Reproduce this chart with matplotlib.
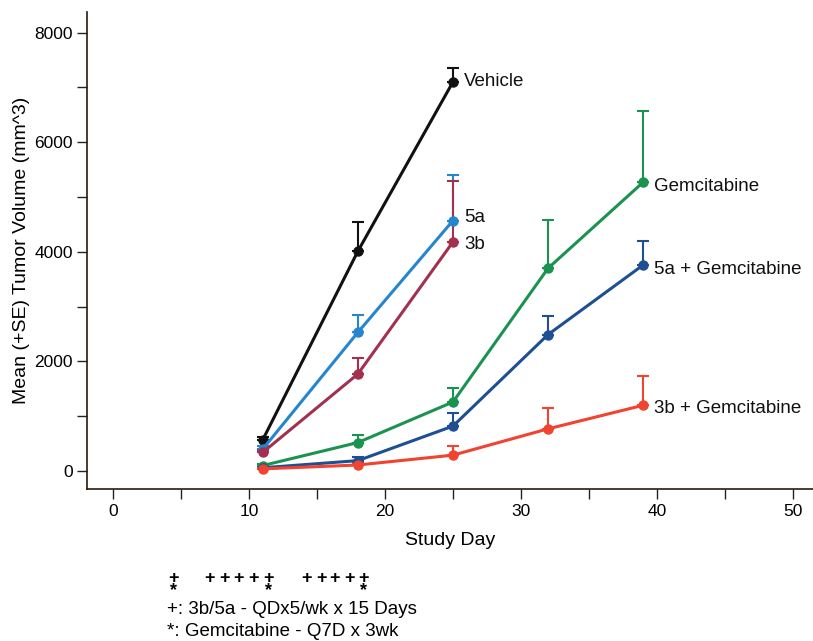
import matplotlib
matplotlib.use("Agg")
import matplotlib.pyplot as plt
import matplotlib.transforms as mtransforms
from matplotlib.ticker import MultipleLocator

plt.rcParams['font.family'] = ['Liberation Sans', 'DejaVu Sans']

# ---------------- Data ----------------
days = [11, 18, 25, 32, 39]

vehicle = [570, 4010, 7100]
vehicle_se = [60, 540, 250]

cmp_5a = [400, 2530, 4570]
cmp_5a_se = [50, 320, 830]

cmp_3b = [340, 1770, 4180]
cmp_3b_se = [40, 300, 1120]

gem = [100, 520, 1260, 3700, 5270]
gem_se = [30, 130, 260, 880, 1300]

gem_5a = [60, 190, 820, 2490, 3760]
gem_5a_se = [20, 70, 240, 330, 440]

gem_3b = [40, 110, 290, 770, 1200]
gem_3b_se = [15, 40, 160, 380, 540]

series = [
    ("Vehicle", vehicle, vehicle_se, "#111111"),
    ("5a", cmp_5a, cmp_5a_se, "#2585cf"),
    ("3b", cmp_3b, cmp_3b_se, "#a2304f"),
    ("Gemcitabine", gem, gem_se, "#1b9350"),
    ("5a + Gemcitabine", gem_5a, gem_5a_se, "#1d4f92"),
    ("3b + Gemcitabine", gem_3b, gem_3b_se, "#f04330"),
]
label_dy = [0, 2, -2, -3, -3, -2]

# dosing schedule marks (study days)
plus_days = [4.4, 7.1, 8.2, 9.2, 10.3, 11.4, 14.2, 15.3, 16.3, 17.4, 18.4]
star_days = [4.4, 11.4, 18.4]
notes = ["+: 3b/5a - QDx5/wk x 15 Days", "*: Gemcitabine - Q7D x 3wk"]

# ---------------- Chart ----------------
fig = plt.figure(figsize=(8.13, 6.41), dpi=100)
ax = fig.add_axes([0.1066, 0.2371, 0.8934, 0.7442])

for (name, vals, se, col), dy in zip(series, label_dy):
    x = days[:len(vals)]
    ax.errorbar(x, vals, yerr=[[0] * len(se), se], color=col, lw=2.2,
                marker='o', ms=6.5, capsize=4, elinewidth=1.5, capthick=1.5,
                zorder=3)
    ax.annotate(name, (x[-1], vals[-1]), xytext=(8, dy), textcoords='offset points',
                va='center', ha='left', fontsize=13.5, color='#111111')

ax.set_xlim(-1.96, 51.5)
ax.set_ylim(-328, 8376)
ax.xaxis.set_major_locator(MultipleLocator(10))
ax.xaxis.set_minor_locator(MultipleLocator(5))
ax.yaxis.set_major_locator(MultipleLocator(2000))
ax.yaxis.set_minor_locator(MultipleLocator(1000))
ax.tick_params(which='both', direction='out', length=7, width=1, labelsize=12.5,
               color='#222222')
ax.tick_params(axis='x', pad=4)
ax.tick_params(axis='y', pad=3)
for s in ['top', 'right']:
    ax.spines[s].set_visible(False)
for s in ['left', 'bottom']:
    ax.spines[s].set_linewidth(1.2)
    ax.spines[s].set_color('#2a1a10')

ax.set_xlabel("Study Day", fontsize=14, labelpad=9)
ax.set_ylabel("Mean (+SE) Tumor Volume (mm^3)", fontsize=14, labelpad=3)

# dosing schedule below the axis
trans = mtransforms.blended_transform_factory(ax.transData, fig.transFigure)
for d in plus_days:
    mark = "+\n*" if d in star_days else "+"
    ax.text(d, 1 - 570 / 641, mark, transform=trans, ha='center', va='top',
            fontsize=13, fontweight='bold', linespacing=0.62, clip_on=False)
for i, t in enumerate(notes):
    fig.text(167 / 813, 1 - (610 + 22 * i) / 641, t, ha='left', va='center',
             fontsize=13.5)

fig.savefig("out.png", dpi=100)
